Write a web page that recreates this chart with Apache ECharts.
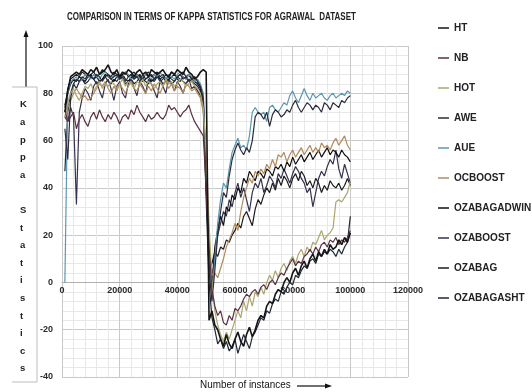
<!DOCTYPE html>
<html>
<head>
<meta charset="utf-8">
<script src="https://cdn.jsdelivr.net/npm/echarts@6/dist/echarts.min.js"></script>
<style>
  html, body { margin: 0; padding: 0; background: #fff; }
  #main { width: 532px; height: 392px; }
</style>
</head>
<body>
<div id="main"></div>
<script>
// Kappa statistic per 1000-instance window, Agrawal stream (drift at 50000)
const titleText = 'COMPARISON IN TERMS OF KAPPA STATISTICS FOR AGRAWAL  DATASET';
const seriesNames = ['HT', 'NB', 'HOT', 'AWE', 'AUE', 'OCBOOST', 'OZABAGADWIN', 'OZABOOST', 'OZABAG', 'OZABAGASHT'];
const xTicks = [0, 20000, 40000, 60000, 80000, 100000, 120000];
const yTicks = [-40, -20, 0, 20, 40, 60, 80, 100];

// evaluation points: 1000, 2000, ..., 100000
const instances = [];
for (let i = 1; i <= 100; i++) instances.push(i * 1000);

const HT = [
  72, 81, 87, 88, 89, 88, 90, 89, 88, 90, 89, 91, 88, 89, 90, 92, 89, 88, 90, 87,
  89, 88, 90, 89, 87, 89, 90, 88, 89, 87, 90, 89, 88, 89, 90, 88, 87, 89, 88, 90,
  89, 88, 91, 89, 88, 86, 87, 89, 90,
  89, -16, -12, -18, -20, -24, -27, -22, -26, -28, -24, -21, -25, -27, -22, -19, -23, -20, -16, -14,
  -15, -10, -8, -9, -5, -3, -4, 0, 2, 0, 4, 6, 3, 7, 9, 6, 10, 12, 9, 13,
  11, 14, 12, 16, 14, 15, 18, 16, 19, 17, 21
];
const NB = [
  73, 68, 70, 72, 65, 69, 71, 68, 66, 70, 72, 69, 73, 70, 68, 71, 69, 72, 70, 67,
  70, 71, 69, 73, 71, 75, 72, 70, 68, 71, 69, 70, 72, 70, 69, 71, 75, 73, 74, 72,
  70, 72, 73, 75, 71, 68, 66, 64, 62,
  40, 15, -3, -10, -14, -12, -17, -18, -14, -16, -11, -12, -10, -7, -5, -6, -4, -3, -5, -2,
  -1, -3, 0, 1, -1, 2, 4, 3, 6, 8, 10, 7, 9, 8, 11, 12, 14, 12, 15, 13,
  16, 17, 15, 18, 17, 19, 16, 18, 17, 19, 22
];
const HOT = [
  70, 76, 80, 82, 79, 77, 80, 83, 82, 84, 81, 83, 85, 82, 84, 83, 85, 84, 82, 84,
  86, 83, 85, 84, 82, 85, 84, 86, 83, 85, 84, 82, 84, 85, 83, 86, 84, 85, 83, 84,
  86, 85, 83, 84, 85, 83, 82, 80, 74,
  55, 25, 0, -12, -18, -22, -25, -21, -24, -20, -16, -12, -15, -8, -12, -6, -10, -4, -6, -2,
  -5, 0, 3, 1, 5, 2, 6, 8, 5, 9, 11, 8, 12, 14, 11, 15, 13, 17, 16, 19,
  22, 18, 20, 21, 23, 34, 35, 34, 36, 38, 43
];
const AWE = [
  65, 52, 78, 84, 86, 85, 87, 86, 88, 87, 86, 88, 87, 85, 87, 88, 86, 87, 88, 86,
  87, 85, 87, 88, 86, 87, 85, 88, 86, 87, 88, 86, 87, 85, 86, 88, 87, 86, 85, 87,
  88, 86, 87, 85, 86, 87, 85, 83, 78,
  45, 5, -8, 5, 20, 30, 38, 36, 45, 52, 56, 59, 56, 54, 57, 55, 60, 70, 72, 71,
  69, 72, 66, 71, 73, 72, 70, 71, 73, 72, 75, 77, 74, 72, 74, 76, 75, 73, 75, 74,
  72, 76, 75, 73, 76, 75, 74, 77, 76, 78, 79
];
const AUE = [
  0, 80, 85, 86, 87, 85, 86, 88, 87, 86, 88, 87, 86, 88, 89, 87, 86, 88, 87, 86,
  87, 89, 88, 86, 87, 88, 86, 87, 88, 87, 86, 88, 87, 89, 87, 86, 88, 87, 86, 88,
  89, 87, 86, 88, 87, 85, 86, 84, 80,
  50, 15, -5, 10, 25, 35, 42, 40, 48, 55, 58, 61, 57, 58, 56, 62, 72, 74, 72, 71,
  72, 68, 74, 75, 73, 72, 74, 76, 75, 79, 81, 78, 76, 79, 82, 79, 77, 80, 78, 79,
  80, 78, 77, 79, 80, 78, 79, 80, 79, 81, 80
];
const OCBOOST = [
  70, 74, 77, 80, 82, 80, 78, 79, 77, 78, 80, 82, 84, 83, 85, 82, 80, 83, 81, 84,
  82, 80, 83, 85, 82, 81, 84, 82, 80, 83, 81, 84, 82, 80, 83, 85, 82, 84, 81, 83,
  82, 80, 84, 83, 81, 82, 80, 78, 72,
  45, 15, 3, 4, 2, 6, 10, 15, 18, 21, 25, 22, 30, 36, 40, 44, 42, 47, 45, 48,
  46, 50, 48, 52, 49, 54, 53, 55, 51, 54, 56, 53, 55, 57, 54, 56, 58, 55, 57, 55,
  59, 57, 58, 56, 59, 61, 58, 60, 62, 58, 56
];
const OZABAGADWIN = [
  75, 80, 84, 86, 85, 87, 86, 85, 87, 88, 86, 87, 85, 86, 88, 87, 86, 85, 87, 86,
  88, 86, 85, 87, 86, 88, 87, 85, 86, 87, 85, 86, 88, 86, 87, 85, 86, 87, 88, 86,
  85, 87, 86, 88, 86, 85, 84, 82, 76,
  45, 10, -2, 15, 22, 28, 24, 32, 30, 37, 35, 40, 38, 44, 42, 47, 45, 43, 47, 46,
  44, 48, 47, 45, 49, 48, 50, 47, 51, 49, 53, 50, 52, 54, 51, 53, 55, 52, 54, 56,
  53, 55, 57, 54, 56, 55, 53, 56, 54, 53, 51
];
const OZABOOST = [
  70, 68, 74, 70, 33, 72, 78, 82, 80, 77, 83, 85, 81, 78, 84, 86, 82, 77, 83, 85,
  80, 78, 84, 86, 82, 79, 85, 83, 80, 86, 84, 81, 78, 85, 83, 80, 86, 84, 81, 85,
  83, 80, 84, 86, 82, 83, 81, 79, 74,
  40, 8, 0, 12, 20, 25, 30, 28, 35, 32, 38, 42, 36, 40, 35, 30, 38, 42, 40, 44,
  38, 41, 45, 43, 40, 46, 44, 48, 45, 42, 46, 49, 47, 44, 42, 38, 40, 32, 38, 44,
  47, 45, 49, 52, 50, 56, 48, 44, 50, 46, 42
];
const OZABAG = [
  74, 82, 86, 87, 88, 87, 89, 88, 87, 88, 89, 87, 88, 90, 89, 88, 87, 89, 88, 87,
  88, 89, 87, 88, 89, 87, 88, 86, 88, 89, 87, 88, 89, 87, 88, 86, 87, 89, 88, 87,
  88, 89, 87, 88, 86, 87, 85, 83, 77,
  42, 5, 8, 13, 11, 15, 14, 18, 17, 20, 22, 25, 23, 28, 30, 27, 24, 31, 35, 33,
  37, 40, 38, 42, 39, 44, 41, 45, 43, 40, 44, 46, 43, 47, 45, 41, 43, 40, 44, 42,
  38, 41, 39, 43, 41, 40, 42, 39, 41, 44, 41
];
const OZABAGASHT = [
  47, 72, 80, 84, 82, 85, 86, 84, 85, 87, 86, 84, 85, 86, 87, 85, 84, 86, 85, 87,
  86, 84, 85, 86, 84, 85, 87, 86, 85, 84, 86, 85, 87, 86, 84, 85, 86, 84, 85, 87,
  86, 85, 84, 86, 85, 84, 83, 81, 75,
  35, 0, -15, -20, -26, -24, -28, -25, -29, -27, -24, -30, -26, -22, -25, -28, -23, -21, -18, -15,
  -16, -12, -13, -9, -7, -8, -4, -5, -2, 0, -1, 3, 2, 5, 7, 6, 9, 10, 8, 12,
  11, 13, 12, 14, 13, 11, 14, 12, 15, 17, 28
];

const seriesValues = [HT, NB, HOT, AWE, AUE, OCBOOST, OZABAGADWIN, OZABOOST, OZABAG, OZABAGASHT];
const seriesColors = ['#151515', '#5a3142', '#aaa66c', '#2c2c3a', '#5c97b0', '#b48a5c',
                      '#101010', '#38304f', '#1c1c1c', '#1e2838'];
const seriesWidths = [1.6, 1.2, 1.2, 1.2, 1.2, 1.2, 1.2, 1.2, 1.2, 1.2];

const FONT = '"Liberation Sans", Arial, sans-serif';
const GRID = { left: 62, right: 124, top: 46, bottom: 15 };
const Y_MIN = -40, Y_MAX = 100;
// distance from the bottom of the plot up to the zero line, where the x axis sits
const plotHeight = 392 - GRID.top - GRID.bottom;
const zeroOffset = -plotHeight * (0 - Y_MIN) / (Y_MAX - Y_MIN);

const chart = echarts.init(document.getElementById('main'), null, { renderer: 'canvas' });

const series = seriesNames.map((name, k) => ({
  name: name,
  type: 'line',
  data: instances.map((x, i) => [x, seriesValues[k][i]]),
  showSymbol: false,
  symbol: 'none',
  lineStyle: { color: seriesColors[k], width: seriesWidths[k] },
  itemStyle: { color: seriesColors[k] },
  z: 10 - k
}));

// vertical letters of the y-axis caption
const captionLetters = 'Kappa'.split('').concat([''], 'Statistics'.split(''));

chart.setOption({
  animation: false,
  backgroundColor: '#ffffff',
  grid: Object.assign({ containLabel: false }, GRID),
  xAxis: {
    type: 'value', min: 0, max: 120000, interval: 20000,
    position: 'bottom', offset: zeroOffset,
    axisLine: { show: true, onZero: false, lineStyle: { color: '#b0b0b0', width: 1 } },
    axisTick: { show: false },
    axisLabel: { margin: 4, color: '#2a2a2a', fontFamily: FONT, fontWeight: 'bold', fontSize: 9,
                 formatter: v => xTicks.includes(v) ? String(v) : '' },
    splitLine: { show: true, lineStyle: { color: '#c9c9c9', width: 1 } },
    minorTick: { show: false, splitNumber: 5 },
    minorSplitLine: { show: true, lineStyle: { color: '#e8e8e8', width: 1 } }
  },
  yAxis: {
    type: 'value', min: Y_MIN, max: Y_MAX, interval: 20,
    axisLine: { show: false },
    axisTick: { show: false },
    axisLabel: { margin: 9, color: '#2a2a2a', fontFamily: FONT, fontWeight: 'bold', fontSize: 9,
                 formatter: v => yTicks.includes(v) ? String(v) : '' },
    splitLine: { show: true, lineStyle: { color: '#c9c9c9', width: 1 } },
    minorTick: { show: false, splitNumber: 5 },
    minorSplitLine: { show: true, lineStyle: { color: '#e8e8e8', width: 1 } }
  },
  legend: {
    orient: 'vertical', left: 433, top: 17, itemGap: 18, padding: 5,
    icon: 'rect', itemWidth: 11, itemHeight: 1.5,
    textStyle: { color: '#222', fontFamily: FONT, fontWeight: 'bold', fontSize: 10, lineHeight: 12 },
    data: seriesNames
  },
  graphic: [
    { type: 'text', x: 67, y: 12, scaleX: 0.8,
      style: { text: titleText, fill: '#222', font: 'bold 10px ' + FONT } },
    // upward arrow above the caption box
    { type: 'line', shape: { x1: 26, y1: 87, x2: 26, y2: 36 }, style: { stroke: '#111', lineWidth: 1.2 } },
    { type: 'polygon', shape: { points: [[23.5, 37], [28.5, 37], [26, 30]] }, style: { fill: '#111' } },
    // caption box lines
    { type: 'polyline', shape: { points: [[12, 87], [37, 87], [37, 382], [12, 382]] },
      style: { stroke: '#bdbdbd', lineWidth: 1, fill: null } },
    { type: 'text', left: 20, top: 96,
      style: { text: captionLetters.join('\n'), fill: '#222', font: 'bold 9.5px ' + FONT,
               lineHeight: 17.6, align: 'center', width: 10 } },
    // x-axis caption with arrow
    { type: 'text', x: 200, y: 379, scaleX: 0.86,
      style: { text: 'Number of instances', fill: '#111', font: '11.5px ' + FONT } },
    { type: 'line', shape: { x1: 297, y1: 386, x2: 326, y2: 386 }, style: { stroke: '#111', lineWidth: 1.2 } },
    { type: 'polygon', shape: { points: [[325, 383.5], [325, 388.5], [332, 386]] }, style: { fill: '#111' } }
  ],
  series: series
});
</script>
</body>
</html>
